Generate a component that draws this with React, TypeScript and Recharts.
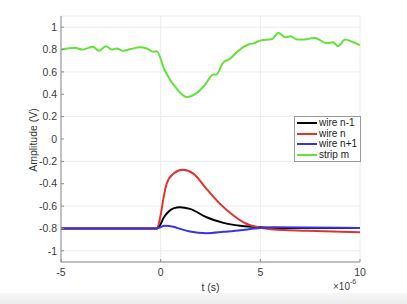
import { LineChart, Line, XAxis, YAxis, CartesianGrid } from 'recharts';

// time axis in microseconds (plotted with a x10^-6 multiplier)
const tWireNm1 = [-5, -0.2, 0, 0.13, 0.39, 0.64, 0.97, 1.47, 2.3, 3.15, 4.0, 5.0, 6.0, 10];
const vWireNm1 = [-0.8, -0.8, -0.76, -0.71, -0.65, -0.62, -0.61, -0.625, -0.7, -0.75, -0.776, -0.79, -0.795, -0.797];

const tWireN = [-5, -0.2, 0, 0.13, 0.3, 0.64, 1.1, 1.64, 2.3, 2.98, 3.65, 4.3, 5.0, 5.67, 7.34, 10];
const vWireN = [-0.8, -0.8, -0.68, -0.54, -0.4, -0.31, -0.276, -0.31, -0.446, -0.58, -0.684, -0.758, -0.794, -0.81, -0.82, -0.833];

const tWireNp1 = [-5, -0.2, 0.2, 0.64, 1.0, 1.47, 2.3, 3.15, 4.0, 5.0, 5.67, 10];
const vWireNp1 = [-0.8, -0.8, -0.776, -0.785, -0.805, -0.827, -0.842, -0.83, -0.815, -0.797, -0.79, -0.795];

const tStrip = [
  -5, -4.3, -3.9, -3.4, -3.1, -2.75, -2.46, -2.2, -1.9, -1.5, -1.04, -0.7, -0.38, -0.2,
  0.2, 0.8, 1.3, 1.8, 2.2, 2.65, 2.8, 3.1, 3.5, 3.9, 4.4, 4.65, 5.0, 5.6, 5.9, 6.25,
  6.5, 6.85, 7.25, 7.7, 8.35, 8.65, 8.9, 9.25, 9.6, 10,
];
const vStrip = [
  0.8, 0.815, 0.8, 0.825, 0.79, 0.83, 0.8, 0.81, 0.79, 0.805, 0.82, 0.81, 0.78, 0.785,
  0.615, 0.45, 0.376, 0.41, 0.48, 0.576, 0.576, 0.675, 0.72, 0.79, 0.845, 0.855, 0.88, 0.895, 0.95, 0.91,
  0.92, 0.89, 0.89, 0.905, 0.857, 0.865, 0.83, 0.89, 0.87, 0.84,
];

const seriesNames = ['wire n-1', 'wire n', 'wire n+1', 'strip m'];
const seriesColors = ['#000000', '#e0332c', '#3434ea', '#62e23a'];

const xTicks = [-5, 0, 5, 10];
const yTicks = [-1, -0.8, -0.6, -0.4, -0.2, 0, 0.2, 0.4, 0.6, 0.8, 1];

const toPoints = (t: number[], v: number[]) => t.map((x, i) => ({ t: x, v: v[i] }));

const series = [
  toPoints(tWireNm1, vWireNm1),
  toPoints(tWireN, vWireN),
  toPoints(tWireNp1, vWireNp1),
  toPoints(tStrip, vStrip),
];

const FONT = '"Liberation Sans", Arial, Helvetica, sans-serif';
const tickStyle = { fontSize: 10.5, fill: '#3a3a3a', fontFamily: FONT };
const BOX = '#8c8c8c';

// matlab-style boxed legend, drawn over the axes
function MatlabLegend() {
  return (
    <div
      style={{
        position: 'absolute',
        left: 294,
        top: 116,
        border: '1px solid #9a9a9a',
        background: '#fff',
        padding: '1px 3px 1px 2px',
        fontSize: 10,
        color: '#222',
        lineHeight: '10.6px',
      }}
    >
      {seriesNames.map((name, i) => (
        <div key={name} style={{ display: 'flex', alignItems: 'center' }}>
          <span
            style={{
              display: 'inline-block',
              width: 20,
              height: 2,
              background: seriesColors[i],
              marginRight: 2,
            }}
          />
          <span>{name}</span>
        </div>
      ))}
    </div>
  );
}

export default function App() {
  return (
    <div
      style={{
        position: 'absolute',
        left: 0,
        top: 0,
        width: 407,
        height: 304,
        background: '#fff',
        fontFamily: FONT,
        overflow: 'hidden',
      }}
    >
      <LineChart width={407} height={304} margin={{ top: 16, right: 47, bottom: 0, left: 0 }}>
        <CartesianGrid stroke="#ececec" strokeWidth={1} />
        <XAxis
          dataKey="t"
          type="number"
          domain={[-5, 10]}
          ticks={xTicks}
          allowDuplicatedCategory={false}
          height={42}
          stroke={BOX}
          tickSize={-3}
          tickMargin={10}
          tick={tickStyle}
        />
        <XAxis
          xAxisId="top"
          orientation="top"
          dataKey="t"
          type="number"
          domain={[-5, 10]}
          ticks={xTicks}
          height={0}
          stroke={BOX}
          tickSize={-3}
          tick={() => <g />}
        />
        <YAxis
          type="number"
          domain={[-1.1, 1.1]}
          ticks={yTicks}
          width={61}
          stroke={BOX}
          tickSize={-3}
          tickMargin={7}
          tick={tickStyle}
          label={{
            content: () => (
              <text
                x={33}
                y={140}
                transform="rotate(-90 33 140)"
                textAnchor="middle"
                dominantBaseline="central"
                fontSize={10.5}
                fill="#333"
                fontFamily={FONT}
              >
                Amplitude (V)
              </text>
            ),
          }}
        />
        <YAxis
          yAxisId="right"
          orientation="right"
          type="number"
          domain={[-1.1, 1.1]}
          ticks={yTicks}
          width={0}
          stroke={BOX}
          tickSize={-3}
          tick={() => <g />}
        />
        {series.map((d, i) => (
          <Line
            key={seriesNames[i]}
            data={d}
            dataKey="v"
            name={seriesNames[i]}
            type="monotone"
            stroke={seriesColors[i]}
            strokeWidth={2}
            dot={false}
            isAnimationActive={false}
          />
        ))}
      </LineChart>
      <MatlabLegend />
      <div
        style={{
          position: 'absolute',
          left: 0,
          width: 421,
          top: 281,
          textAlign: 'center',
          fontSize: 10.5,
          color: '#333',
        }}
      >
        t (s)
      </div>
      <div style={{ position: 'absolute', left: 333, top: 281, fontSize: 10, color: '#444' }}>
        ×10<sup style={{ fontSize: 7, verticalAlign: 'top', position: 'relative', top: -3 }}>-6</sup>
      </div>
      <div
        style={{
          position: 'absolute',
          left: 0,
          top: 293,
          width: 407,
          height: 11,
          background: 'linear-gradient(#f7f7f7, #ececec)',
        }}
      />
    </div>
  );
}
